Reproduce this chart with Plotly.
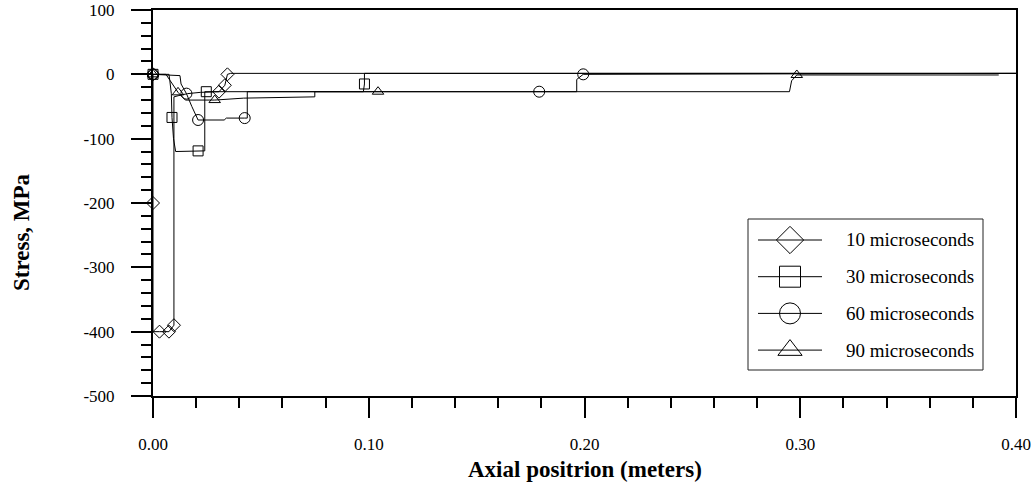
import plotly.graph_objects as go

# Axial stress profiles at four times after impact (x in meters, stress in MPa)
t10_x = [0.0, 0.0, 0.0, 0.0030, 0.0074, 0.0097, 0.0097, 0.0120, 0.0160, 0.0220, 0.0306, 0.0333, 0.0345, 0.0360, 0.400]
t10_y = [0, -200, -400, -400, -400, -390, -35, -33, -30, -28, -27, -17, 0, 1.5, 1.5]
t10_marks = [0, 1, 3, 4, 5, 10, 11, 12]

t30_x = [0.0, 0.0074, 0.0078, 0.0085, 0.0088, 0.0095, 0.0105, 0.0209, 0.0240, 0.0240, 0.0247, 0.0975, 0.0980, 0.0980, 0.400]
t30_y = [0, 0, -10, -30, -67, -100, -120, -119, -119, -27, -27, -27, -15, 1.5, 1.5]
t30_marks = [0, 4, 7, 10, 12]

t60_x = [0.0, 0.0125, 0.0130, 0.0155, 0.0180, 0.0209, 0.0330, 0.0340, 0.0425, 0.0437, 0.0437, 0.1790, 0.1964, 0.1964, 0.1994, 0.400]
t60_y = [0, -2, -15, -30, -50, -71, -71, -68, -68, -68, -27, -27, -27, -8, 0, 1.5]
t60_marks = [0, 3, 5, 8, 11, 14]

t90_x = [0.0, 0.0060, 0.0080, 0.0100, 0.0116, 0.0150, 0.0286, 0.0420, 0.0750, 0.0750, 0.1043, 0.2950, 0.2960, 0.2984, 0.392]
t90_y = [0, 0, -10, -20, -28, -40, -40, -37, -35, -27, -27, -27, -10, -1, -1]
t90_marks = [0, 4, 6, 10, 13]

# Axis ticks
x_ticks = [0.0, 0.1, 0.2, 0.3, 0.4]
x_labels = ["0.00", "0.10", "0.20", "0.30", "0.40"]
y_ticks = [100, 0, -100, -200, -300, -400, -500]
y_labels = ["100", "0", "-100", "-200", "-300", "-400", "-500"]

series = [
    ("10 microseconds", t10_x, t10_y, t10_marks, "diamond-open", 10),
    ("30 microseconds", t30_x, t30_y, t30_marks, "square-open", 10),
    ("60 microseconds", t60_x, t60_y, t60_marks, "circle-open", 11),
    ("90 microseconds", t90_x, t90_y, t90_marks, "triangle-up-open", 10),
]

FONT = "Liberation Serif, Times New Roman, serif"

fig = go.Figure()
for name, xs, ys, marks, symbol, size in series:
    fig.add_trace(go.Scatter(
        x=xs, y=ys, mode="lines", name=name, showlegend=False,
        line=dict(color="black", width=1),
    ))
    fig.add_trace(go.Scatter(
        x=[xs[i] for i in marks], y=[ys[i] for i in marks], mode="markers",
        showlegend=False, cliponaxis=False,
        marker=dict(symbol=symbol, size=size, color="black", line=dict(width=1, color="black")),
    ))

# Legend panel drawn on an inset axis (units: pixels from box top-left)
for row, (name, xs, ys, marks, symbol, size) in enumerate(series):
    yy = 21 + row * 36.7
    fig.add_trace(go.Scatter(
        x=[10, 42, 74], y=[yy, yy, yy], mode="lines", xaxis="x2", yaxis="y2",
        showlegend=False, line=dict(color="black", width=1),
    ))
    fig.add_trace(go.Scatter(
        x=[42], y=[yy], mode="markers", xaxis="x2", yaxis="y2", showlegend=False,
        marker=dict(symbol=symbol, size=21, color="black", line=dict(width=1, color="black")),
    ))
    fig.add_annotation(x=96, y=yy, xref="x2", yref="y2", text=name, showarrow=False,
                       xanchor="left", yanchor="middle", font=dict(family=FONT, size=19, color="black"))

fig.add_shape(type="rect", xref="x2 domain", yref="y2 domain", x0=0, x1=1, y0=0, y1=1,
              line=dict(color="#222", width=1), fillcolor="rgba(0,0,0,0)")

W, H = 1035, 486
ml, mr, mt, mb = 153, 19, 10, 90
pw, ph = W - ml - mr, H - mt - mb
box = (748, 983, 219, 370)

fig.update_layout(
    template="none",
    width=W, height=H,
    margin=dict(l=ml, r=mr, t=mt, b=mb, autoexpand=False),
    paper_bgcolor="white", plot_bgcolor="white",
    font=dict(family=FONT, size=17, color="black"),
    xaxis=dict(
        range=[0, 0.40], tickmode="array", tickvals=x_ticks, ticktext=x_labels,
        showgrid=False, zeroline=False, automargin=False,
        showline=True, linewidth=2, linecolor="black", mirror=True,
        ticks="outside", ticklen=20, tickwidth=2, tickcolor="black", ticklabelstandoff=12,
        minor=dict(dtick=0.02, ticks="outside", ticklen=10, tickwidth=2, tickcolor="black", showgrid=False),
    ),
    yaxis=dict(
        range=[-500, 100], tickmode="array", tickvals=y_ticks, ticktext=y_labels,
        showgrid=False, zeroline=False, automargin=False,
        showline=True, linewidth=2, linecolor="black", mirror=True,
        ticks="outside", ticklen=20, tickwidth=2, tickcolor="black", ticklabelstandoff=13,
        minor=dict(dtick=20, ticks="outside", ticklen=10, tickwidth=2, tickcolor="black", showgrid=False),
    ),
    xaxis2=dict(domain=[(box[0] - ml) / pw, (box[1] - ml) / pw], range=[0, box[1] - box[0]],
                visible=False, fixedrange=True, anchor="y2"),
    yaxis2=dict(domain=[(H - mb - box[3]) / ph, (H - mb - box[2]) / ph], range=[box[3] - box[2], 0],
                visible=False, fixedrange=True, anchor="x2"),
    showlegend=False,
)

fig.add_annotation(x=0.5, y=(H - mb - 469) / ph, xref="paper", yref="paper",
                   xanchor="center", yanchor="middle",
                   text="<b>Axial positrion (meters)</b>", showarrow=False,
                   font=dict(family=FONT, size=23, color="black"))
fig.add_annotation(x=(21 - ml) / pw, y=(H - mb - 232) / ph, xref="paper", yref="paper",
                   xanchor="center", yanchor="middle",
                   text="<b>Stress, MPa</b>", showarrow=False, textangle=-90,
                   font=dict(family=FONT, size=23, color="black"))

fig.write_html("out.html")
